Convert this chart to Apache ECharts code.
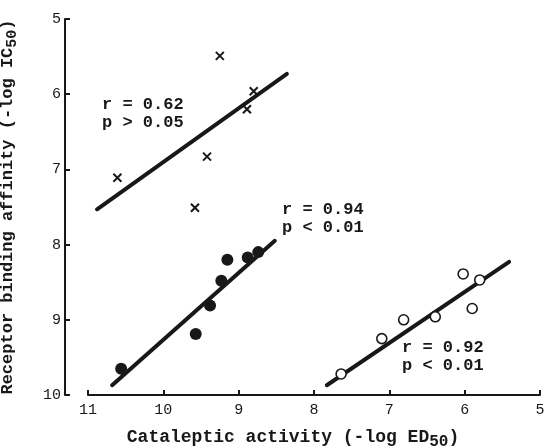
<!DOCTYPE html>
<html>
<head>
<meta charset="utf-8">
<title>Catalepsy vs receptor binding</title>
<script src="https://cdn.jsdelivr.net/npm/echarts@6/dist/echarts.min.js"></script>
<style>
  html, body { margin: 0; padding: 0; background: #fff; }
  #main { width: 545px; height: 447px; }
</style>
</head>
<body>
<div id="main"></div>
<script>
// points: [cataleptic activity, binding affinity]
var crossPoints = [[9.25, 5.49], [8.80, 5.96], [8.89, 6.20], [9.42, 6.83], [10.61, 7.11], [9.58, 7.51]];
var filledPoints = [[10.56, 9.65], [9.57, 9.19], [9.38, 8.81], [9.23, 8.48], [9.15, 8.20], [8.88, 8.17], [8.74, 8.10]];
var openPoints = [[7.64, 9.72], [7.10, 9.25], [6.81, 9.00], [6.39, 8.96], [6.02, 8.39], [5.90, 8.85], [5.80, 8.47]];

// regression line end points
var crossFit = [[10.88, 7.53], [8.36, 5.73]];
var filledFit = [[10.68, 9.87], [8.52, 7.95]];
var openFit = [[7.83, 9.87], [5.41, 8.23]];

var xTicks = [11, 10, 9, 8, 7, 6, 5];
var yTicks = [5, 6, 7, 8, 9, 10];

var statsText = [
    ['r = 0.62', 'p > 0.05'],
    ['r = 0.94', 'p < 0.01'],
    ['r = 0.92', 'p < 0.01']
];

var ink = '#181818';
var mono = '"Liberation Mono", "DejaVu Sans Mono", monospace';

var chart = echarts.init(document.getElementById('main'));

function fitLine(data) {
    return {
        type: 'line',
        data: data,
        symbol: 'none',
        silent: true,
        lineStyle: { color: ink, width: 4, cap: 'round' },
        z: 2
    };
}

function statLabel(lines, left, top) {
    return {
        type: 'text',
        left: left,
        top: top,
        style: {
            text: lines.join('\n'),
            font: 'bold 17px ' + mono,
            fill: ink,
            lineHeight: 18
        }
    };
}

var option = {
    animation: false,
    backgroundColor: '#fff',
    grid: { left: 88, right: 5, top: 19, bottom: 52, outerBoundsMode: 'none', containLabel: false },
    xAxis: {
        type: 'value',
        inverse: true,
        min: xTicks[xTicks.length - 1],
        max: xTicks[0],
        interval: 1,
        name: 'Cataleptic activity (-log ED{sub|50})',
        nameLocation: 'middle',
        nameGap: 30,
        nameTextStyle: {
            fontFamily: mono, fontSize: 18, fontWeight: 'bold', color: ink,
            padding: [0, 42, 0, 0],
            rich: { sub: { fontFamily: mono, fontSize: 16, fontWeight: 'bold', color: ink, padding: [9, 0, 0, 0] } }
        },
        axisLine: { lineStyle: { color: ink, width: 2 } },
        axisTick: { inside: true, length: 5, lineStyle: { color: ink, width: 2 } },
        axisLabel: { fontFamily: mono, fontSize: 15, color: ink, margin: 8 },
        splitLine: { show: false }
    },
    yAxis: {
        type: 'value',
        inverse: true,
        min: yTicks[0],
        max: yTicks[yTicks.length - 1],
        interval: 1,
        offset: 23,
        name: 'Receptor binding affinity (-log IC{sub|50})',
        nameLocation: 'middle',
        nameGap: 45,
        nameTextStyle: {
            fontFamily: mono, fontSize: 17, fontWeight: 'bold', color: ink,
            rich: { sub: { fontFamily: mono, fontSize: 15, fontWeight: 'bold', color: ink, padding: [9, 0, 0, 0] } }
        },
        axisLine: { lineStyle: { color: ink, width: 2 } },
        axisTick: { inside: true, length: 5, lineStyle: { color: ink, width: 2 } },
        axisLabel: { fontFamily: mono, fontSize: 15, color: ink, margin: 4 },
        splitLine: { show: false }
    },
    graphic: [
        statLabel(statsText[0], 102, 96),
        statLabel(statsText[1], 282, 201),
        statLabel(statsText[2], 402, 339)
    ],
    series: [
        fitLine(crossFit),
        fitLine(filledFit),
        fitLine(openFit),
        {
            type: 'scatter',
            data: crossPoints,
            symbol: 'path://M0,0L10,10M10,0L0,10',
            symbolSize: 8,
            itemStyle: { color: 'none', borderColor: ink, borderWidth: 2, opacity: 1 },
            z: 3
        },
        {
            type: 'scatter',
            data: filledPoints,
            symbol: 'circle',
            symbolSize: 12,
            itemStyle: { color: ink, opacity: 1 },
            z: 3
        },
        {
            type: 'scatter',
            data: openPoints,
            symbol: 'circle',
            symbolSize: 10,
            itemStyle: { color: '#fff', borderColor: ink, borderWidth: 1.6, opacity: 1 },
            z: 3
        }
    ]
};

chart.setOption(option);
</script>
</body>
</html>
